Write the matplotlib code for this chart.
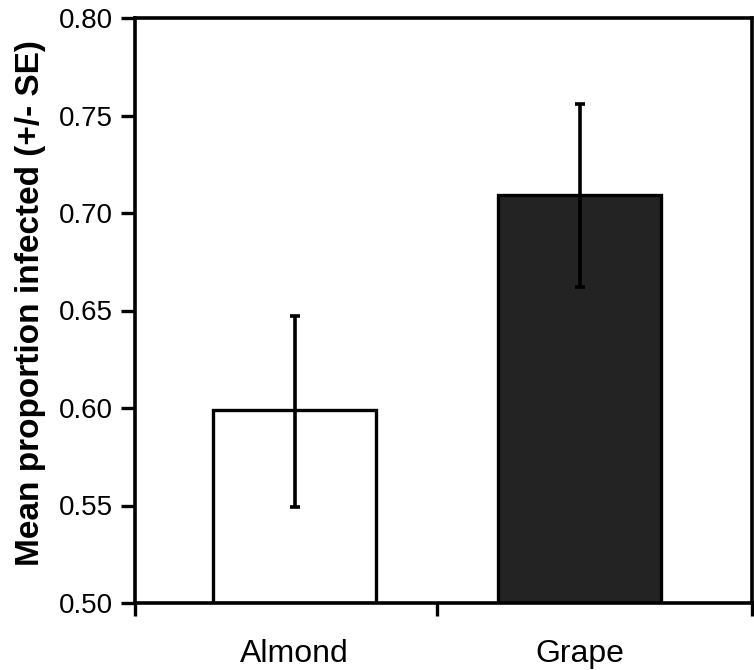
import matplotlib
matplotlib.use("Agg")
import matplotlib.pyplot as plt

categories = ["Almond", "Grape"]
means = [0.599, 0.709]
se_lower = [0.599 - 0.549, 0.709 - 0.662]
se_upper = [0.647 - 0.599, 0.756 - 0.709]
colors = ["white", "#232323"]
yticks = [0.50, 0.55, 0.60, 0.65, 0.70, 0.75, 0.80]

plt.rcParams['font.family'] = ['Liberation Sans', 'DejaVu Sans']

fig = plt.figure(figsize=(7.54, 6.70), dpi=100)
ax = fig.add_axes([135/754, 1 - 603/670, (752-135)/754, (603-18)/670])

x = list(range(len(categories)))
ax.bar(x, [m - 0.5 for m in means], bottom=0.5, width=0.572, color=colors,
       edgecolor="black", linewidth=2.4, zorder=2)
ax.errorbar(x, means, yerr=[se_lower, se_upper], fmt="none", ecolor="black",
            elinewidth=2.6, capsize=3.5, capthick=2.6, zorder=3)

ax.set_xlim(-0.56, 1.605)
ax.set_ylim(0.5, 0.8)
ax.set_yticks(yticks)
ax.set_yticklabels([f"{v:.2f}" for v in yticks], fontsize=20)

ax.set_xticks([-0.56, 0.5, 1.605])
ax.set_xticklabels([])
ax.set_xticks(x, minor=True)
ax.set_xticklabels(categories, minor=True, fontsize=23)
ax.tick_params(axis='x', which='minor', length=0, pad=26)
ax.tick_params(axis='x', which='major', length=9, width=2.4, direction='out')
ax.tick_params(axis='y', length=10, width=2.4, direction='out', pad=6)

for s in ax.spines.values():
    s.set_linewidth(2.6)

fig.text(31/754, (670 - 303)/670, "Mean proportion infected (+/- SE)",
         fontsize=24, fontweight='bold', rotation=90, ha='center', va='center')

fig.savefig("out.png", dpi=100)
